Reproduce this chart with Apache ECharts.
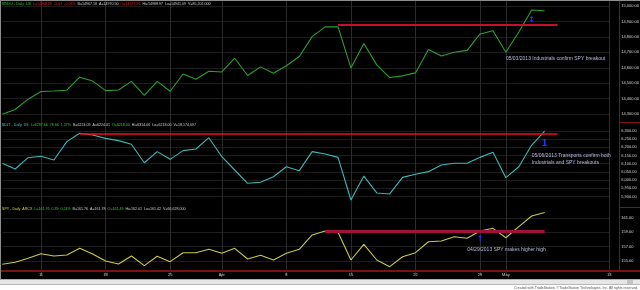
<!DOCTYPE html>
<html><head><meta charset="utf-8">
<script src="https://cdn.jsdelivr.net/npm/echarts@6/dist/echarts.min.js"></script>
<style>html,body{margin:0;padding:0;background:#000}#c{width:640px;height:290px}</style>
</head><body><div id="c"></div>
<script>
// ---- data ----
const dates = ['03/06','03/07','03/08','03/11','03/12','03/13','03/14','03/15','03/18','03/19','03/20','03/21','03/22','03/25','03/26','03/27','03/28',
  '04/01','04/02','04/03','04/04','04/05','04/08','04/09','04/10','04/11','04/12','04/15','04/16','04/17','04/18','04/19','04/22','04/23','04/24','04/25','04/26',
  '04/29','04/30','05/01','05/02','05/03','05/06','05/07','05/08','05/09','05/10','05/13'];
const induValues = [14300,14330,14397,14447,14450,14455,14539,14514,14452,14456,14512,14421,14512,14448,14560,14526,14578,14573,14662,14550,
  14606,14565,14613,14673,14802,14865,14865,14599,14757,14619,14537,14548,14567,14719,14676,14701,14713,14819,14840,14701,14832,14974,14968.89];
const djtValues = [6102,6067,6136,6145,6122,6234,6285,6274,6254,6240,6218,6105,6173,6126,6179,6189,6258,6142,6061,5980,
  5986,6020,6081,6057,6173,6159,6138,5878,6024,5921,5915,6016,6035,6051,6091,6102,6102,6138,6169,6014,6081,6213,6297.66];
const spyValues = [154.54,154.82,155.38,156.02,155.70,155.84,156.77,155.98,155.00,154.58,155.70,154.35,155.66,154.91,156.16,156.16,156.63,156.08,156.77,155.28,
  155.80,155.14,156.08,156.63,158.63,159.19,159.01,155.14,157.33,155.14,154.21,155.60,156.16,157.69,157.79,158.39,158.17,159.19,159.56,158.25,159.79,161.28,161.76];
const tickDates = ['03/11','03/18','03/25','04/01','04/08','04/15','04/22','04/29','05/01','05/13'];
const tickText  = ['11','18','25','Apr','8','15','22','29','May','13'];
const induAxis = [14200, 15100, 100];
const djtAxis  = [5850, 6350, 50];
const spyAxis  = [153, 163, 2];
const induResist = ['04/12','05/07',14880];
const djtResist  = ['03/14','05/07',6285];
const spyResist  = ['04/11','05/06',159.19];
const induNote = ['05/01',14661,'05/03/2013 Industrials confirm SPY breakout'];
const djtNote  = ['05/03',6126,'05/06/2013 Transports confirm both\nIndustrials and SPY breakouts'];
const spyNote  = ['04/26',156.53,'04/29/2013 SPY makes higher high'];
const induMark = ['05/03',14909,'↕'];
const djtMark  = ['05/06',6220,'1'];
const spyMark  = ['04/29',158.14,'↑'];

// ---- chart ----
const FF = 'Liberation Sans, Arial, sans-serif';
const fmt = v => Number(v).toLocaleString('en-US',{minimumFractionDigits:2,maximumFractionDigits:2});
const last = a => a[a.length-1];
const grids = [
  {left:2.27, right:30.8, top:-9.45, height:139.05},
  {left:2.27, right:30.8, top:122.6, height:82},
  {left:2.27, right:30.8, top:203.67, height:71.67}
];
const axes = [induAxis, djtAxis, spyAxis];
const isTick = (i, v) => tickDates.indexOf(v) >= 0;

function xAx(g){
  return {type:'category', gridIndex:g, data:dates, boundaryGap:false,
    offset: g===2 ? -4.33 : 0,
    axisLine:{show:false}, axisTick:{show:false},
    axisLabel:{show:g===2, interval:isTick, formatter:v=>tickText[tickDates.indexOf(v)]||'',
      fontSize:4, color:'#cfcfcf', margin:2.3, fontFamily:FF},
    splitLine:{show:true, interval:isTick, lineStyle:{color:'#2b2b2b', width:1}}};
}
function yAx(g){
  const a = axes[g];
  return {type:'value', gridIndex:g, position:'right', offset:9.8, min:a[0], max:a[1], interval:a[2],
    axisLine:{show:false}, axisTick:{show:false},
    axisLabel:{fontSize:4, color:'#d4d4d4', margin:2.2, fontFamily:FF, formatter:fmt, showMinLabel:false, showMaxLabel:false},
    splitLine:{show:true, showMinLine:false, showMaxLine:false, lineStyle:{color:'#1d1d1d', width:1}}};
}
function priceLine(val, bg){
  return {yAxis:val, lineStyle:{opacity:0, width:0},
    label:{show:true, position:'end', distance:10.6, formatter:fmt(val), backgroundColor:bg, color:'#000',
      fontSize:4, fontFamily:FF, padding:[0.8,2.5,0.2,1.5]}};
}
function resist(r, color, width){
  return [{coord:[r[0], r[2]], lineStyle:{color:color, width:width, type:'solid', opacity:1}, label:{show:false}},
          {coord:[r[1], r[2]]}];
}
function note(n){
  return {coord:[n[0], n[1]], symbol:'circle', symbolSize:0, itemStyle:{color:'transparent'},
    label:{show:true, position:'right', distance:0, formatter:n[2], color:'#b4bcdc', fontSize:5, lineHeight:6.7, fontFamily:FF}};
}
function mark(m){
  return {coord:[m[0], m[1]], symbol:'circle', symbolSize:0, itemStyle:{color:'transparent'},
    label:{show:true, position:'inside', formatter:m[2], color:'#2438ff', fontSize:8, fontWeight:'bold', fontFamily:'DejaVu Sans, sans-serif'}};
}
function series(g, data, color, res, resColor, resW, bg, n, m){
  return {type:'line', xAxisIndex:g, yAxisIndex:g, data:data, symbol:'none', showSymbol:false,
    lineStyle:{color:color, width:1.1}, animation:false, z:3,
    markLine:{silent:true, symbol:['none','none'], animation:false, data:[resist(res, resColor, resW), priceLine(last(data), bg)]},
    markPoint:{silent:true, animation:false, data:[note(n), mark(m)]}};
}
function ttl(top, parts){
  return {left:2, top:top, padding:0, text:parts, textStyle:{fontSize:3.6, fontFamily:FF, fontWeight:'normal',
    rich:{g:{color:'#22c322',fontSize:3.6,fontFamily:FF}, r:{color:'#d82424',fontSize:3.6,fontFamily:FF},
          w:{color:'#cdcdcd',fontSize:3.6,fontFamily:FF}, c:{color:'#3fc0cc',fontSize:3.6,fontFamily:FF},
          y:{color:'#d8d840',fontSize:3.6,fontFamily:FF}, G:{color:'#22d822',fontSize:3.6,fontFamily:FF}}}};
}

const chart = echarts.init(document.getElementById('c'), null, {renderer:'canvas'});
chart.setOption({
  backgroundColor:'#000', animation:false,
  textStyle:{fontFamily:FF},
  title:[
    ttl(1.6, '{g|$INDU - Daily  US}  {r|L=14968.89  -5.07  -0.03%}  {w|B=14967.18  A=14970.50}  {r|O=14973.96}  {w|Hi=14988.97  Lo=14941.09  V=85,202,000}'),
    ttl(122.8, '{c|$DJT - Daily  US}  {G|L=6297.66  78.66  1.27%}  {w|B=6224.09  A=6224.01}  {G|O=6218.00}  {w|Hi=6314.00  Lo=6218.00  V=18,174,697}'),
    ttl(207.4, '{y|SPY - Daily  ARCX}  {G|L=161.76  0.39  0.24%}  {w|B=161.76  A=161.78}  {G|O=161.49}  {w|Hi=162.01  Lo=161.42  V=66,628,000}')
  ],
  grid: grids.map(g => Object.assign({containLabel:false, outerBoundsMode:'none'}, g)),
  xAxis:[xAx(0), xAx(1), xAx(2)],
  yAxis:[yAx(0), yAx(1), yAx(2)],
  series:[
    series(0, induValues, '#2e9e2e', induResist, '#c8102a', 2, '#22e622', induNote, induMark),
    series(1, djtValues, '#3db6b6', djtResist, '#f01010', 1.5, '#40f0f0', djtNote, djtMark),
    series(2, spyValues, '#c8c84a', spyResist, '#a0123a', 3, '#ffff20', spyNote, spyMark)
  ],
  graphic:[
    {type:'line', z:100, shape:{x1:619.5,y1:0,x2:619.5,y2:271}, style:{stroke:'#7d1414', lineWidth:1}},
    {type:'line', z:100, shape:{x1:619.5,y1:122.5,x2:640,y2:122.5}, style:{stroke:'#7d1414', lineWidth:1}},
    {type:'line', z:100, shape:{x1:619.5,y1:207.5,x2:640,y2:207.5}, style:{stroke:'#7d1414', lineWidth:1}},
    {type:'line', z:100, shape:{x1:0,y1:271,x2:640,y2:271}, style:{stroke:'#7a1212', lineWidth:2}},
    {type:'rect', z:100, shape:{x:0,y:279.3,width:640,height:5.2}, style:{fill:'#e6e6e6'}},
    {type:'rect', z:100, shape:{x:0,y:284.5,width:640,height:6}, style:{fill:'#ffffff'}},
    {type:'rect', z:101, shape:{x:627,y:280,width:6,height:4}, style:{fill:'#c4c4c4'}},
    {type:'text', z:101, style:{text:'Created with TradeStation. ©TradeStation Technologies, Inc. All rights reserved.', x:638, y:287.8,
      align:'right', verticalAlign:'middle', fontSize:3.5, fill:'#555', fontFamily:FF}},
    {type:'line', z:100, shape:{x1:0,y1:0.5,x2:640,y2:0.5}, style:{stroke:'#8c8c8c', lineWidth:1}},
    {type:'line', z:100, shape:{x1:0.5,y1:0,x2:0.5,y2:279.3}, style:{stroke:'#8c8c8c', lineWidth:1}}
  ]
});
</script></body></html>
